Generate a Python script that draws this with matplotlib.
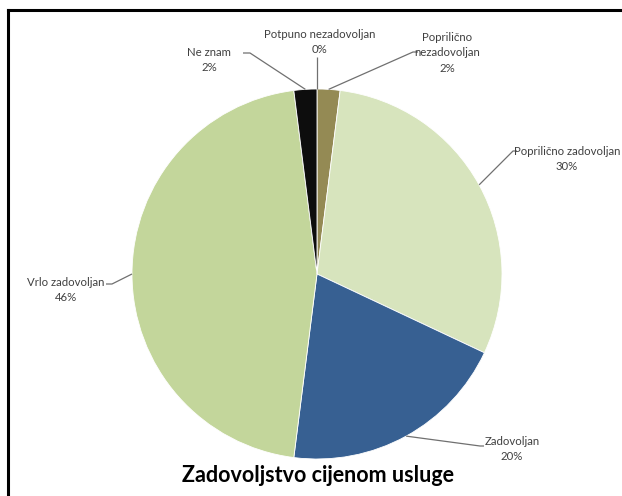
import numpy as np
import matplotlib.pyplot as plt
from matplotlib.lines import Line2D

W, H = 622, 496

labels = ["Potpuno nezadovoljan", "Poprilično\nnezadovoljan", "Poprilično zadovoljan",
          "Zadovoljan", "Vrlo zadovoljan", "Ne znam"]
values = [0, 2, 30, 20, 46, 2]
colors = ["#7f7f7f", "#948a54", "#d7e4bd", "#376092", "#c3d69b", "#0d0d0d"]
title = "Zadovoljstvo cijenom usluge"

# layout (pixels from top-left): label text centre, leader elbow, leader end
label_xy = [(320, 42), (447, 53), (567, 159), (512, 449), (66, 290), (209, 60)]
elbow_xy = [(317, 57), (413, 52), (513, 151), (480, 446), (112, 284), (250, 53)]
end_xy = [(317, 57), (418, 52), (517, 151), (484, 446), (106, 284), (243, 53)]

center = (317, 274)
radius = 185

plt.rcParams['font.family'] = ['Lato', 'DejaVu Sans']

fig = plt.figure(figsize=(W / 100, H / 100), dpi=100)
ax = fig.add_axes([0, 0, 1, 1])
ax.set_xlim(0, W)
ax.set_ylim(0, H)
ax.set_aspect('equal')
ax.axis('off')

wedges, _ = ax.pie(values, colors=colors, startangle=90, counterclock=False,
                   center=(center[0], H - center[1]), radius=radius,
                   wedgeprops={'edgecolor': 'white', 'linewidth': 0.6})
ax.set_xlim(0, W)
ax.set_ylim(0, H)

total = sum(values)
start = 0.0
for i, v in enumerate(values):
    mid = start + v / total * 360 / 2
    start += v / total * 360
    ang = np.deg2rad(90 - mid)
    x0 = center[0] + radius * np.cos(ang)
    y0 = H - center[1] + radius * np.sin(ang)
    ex, ey = elbow_xy[i]
    fx, fy = end_xy[i]
    ax.plot([x0, ex, fx], [y0, H - ey, H - fy], color='#707070', lw=0.9,
            solid_capstyle='butt')
    pct = "%d%%" % round(v / total * 100)
    lx, ly = label_xy[i]
    ax.text(lx, H - ly, labels[i] + "\n" + pct, ha='center', va='center',
            fontsize=8.2, color='#404040', linespacing=1.45)

ax.text(318, H - 475, title, ha='center', va='center', fontsize=15.5,
        fontweight='bold', color='black')

# frame at top and left
fig.add_artist(Line2D([8 / W, 1], [1 - 10 / H, 1 - 10 / H], color='black', lw=2.2))
fig.add_artist(Line2D([8 / W, 8 / W], [0, 1 - 10 / H], color='black', lw=2.2))

fig.savefig("out.png", dpi=100)
